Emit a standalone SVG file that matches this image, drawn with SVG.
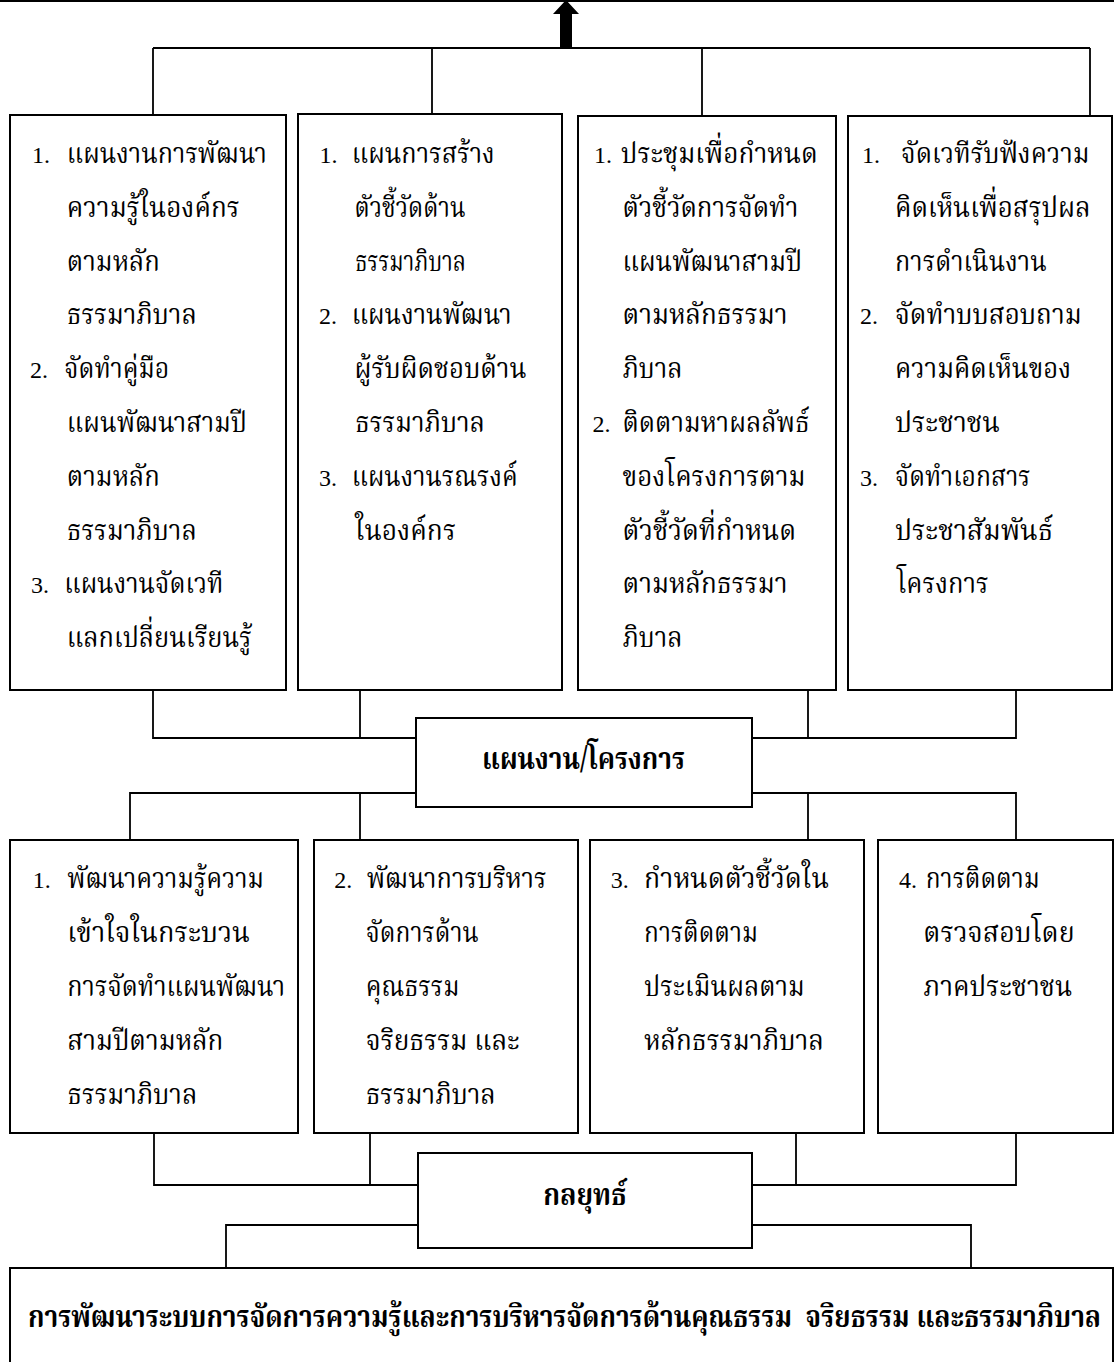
<svg xmlns="http://www.w3.org/2000/svg" width="1114" height="1362" viewBox="0 0 1114 1362">
<style>
.box{fill:#fff;stroke:#000;stroke-width:2}
.ln{fill:none;stroke:#000;stroke-width:1.8}
.t{font-family:"Noto Serif Thai","Norasi","Liberation Serif","Noto Sans Thai",serif;font-size:29px;fill:#000}
.n{font-family:"Liberation Serif",serif;font-size:24px;fill:#000}
.b{font-family:"Noto Serif Thai","Norasi","Liberation Serif","Noto Sans Thai",serif;font-size:30px;font-weight:bold;fill:#000;white-space:pre}
</style>
<rect width="1114" height="1362" fill="#fff"/>
<g id="connectors">
<line class="ln" x1="0" y1="1" x2="1114" y2="1" stroke-width="2"/>
<polygon points="566,0 579,14 572,14 572,48 560,48 560,14 553,14" fill="#000"/>
<path class="ln" d="M153,48H1090M153,48V115M432,48V114M702,48V116M1090,48V116"/>
<path class="ln" d="M153,690V738H416M360,690V738M808,690V738M1016,690V738H752"/>
<path class="ln" d="M416,793H130V840M360,793V840M752,793H1016V840M808,793V840"/>
<path class="ln" d="M154,1133V1185H418M370,1133V1185M796,1133V1185M1016,1133V1185H752"/>
<path class="ln" d="M418,1225H226V1268M752,1225H971V1268"/>
</g>
<g id="plan1">
<rect class="box" x="10" y="115" width="276" height="575"/>
<text class="n" x="32" y="163">1.</text>
<text class="t" x="66.8" y="163" textLength="200" lengthAdjust="spacingAndGlyphs">แผนงานการพัฒนา</text>
<text class="t" x="66.8" y="217" textLength="173" lengthAdjust="spacingAndGlyphs">ความรู้ในองค์กร</text>
<text class="t" x="66.8" y="271" textLength="93" lengthAdjust="spacingAndGlyphs">ตามหลัก</text>
<text class="t" x="66.8" y="324" textLength="130" lengthAdjust="spacingAndGlyphs">ธรรมาภิบาล</text>
<text class="n" x="30" y="378">2.</text>
<text class="t" x="64.3" y="378" textLength="105" lengthAdjust="spacingAndGlyphs">จัดทำคู่มือ</text>
<text class="t" x="66.8" y="432" textLength="180" lengthAdjust="spacingAndGlyphs">แผนพัฒนาสามปี</text>
<text class="t" x="66.8" y="486" textLength="93" lengthAdjust="spacingAndGlyphs">ตามหลัก</text>
<text class="t" x="66.8" y="540" textLength="130" lengthAdjust="spacingAndGlyphs">ธรรมาภิบาล</text>
<text class="n" x="31" y="593">3.</text>
<text class="t" x="64.3" y="593" textLength="159" lengthAdjust="spacingAndGlyphs">แผนงานจัดเวที</text>
<text class="t" x="66.8" y="647" textLength="185" lengthAdjust="spacingAndGlyphs">แลกเปลี่ยนเรียนรู้</text>
</g>
<g id="plan2">
<rect class="box" x="298" y="114" width="264" height="576"/>
<text class="n" x="319.6" y="163">1.</text>
<text class="t" x="351.7" y="163" textLength="143" lengthAdjust="spacingAndGlyphs">แผนการสร้าง</text>
<text class="t" x="354.6" y="217" textLength="111" lengthAdjust="spacingAndGlyphs">ตัวชี้วัดด้าน</text>
<text class="t" x="355" y="271" textLength="111" lengthAdjust="spacingAndGlyphs">ธรรมาภิบาล</text>
<text class="n" x="319" y="324">2.</text>
<text class="t" x="351.7" y="324" textLength="160" lengthAdjust="spacingAndGlyphs">แผนงานพัฒนา</text>
<text class="t" x="354.6" y="378" textLength="172" lengthAdjust="spacingAndGlyphs">ผู้รับผิดชอบด้าน</text>
<text class="t" x="355" y="432" textLength="130" lengthAdjust="spacingAndGlyphs">ธรรมาภิบาล</text>
<text class="n" x="319" y="486">3.</text>
<text class="t" x="351.7" y="486" textLength="166" lengthAdjust="spacingAndGlyphs">แผนงานรณรงค์</text>
<text class="t" x="355" y="540" textLength="101" lengthAdjust="spacingAndGlyphs">ในองค์กร</text>
</g>
<g id="plan3">
<rect class="box" x="578" y="116" width="258" height="574"/>
<text class="n" x="594" y="163">1.</text>
<text class="t" x="620.8" y="163" textLength="197" lengthAdjust="spacingAndGlyphs">ประชุมเพื่อกำหนด</text>
<text class="t" x="622.5" y="217" textLength="176" lengthAdjust="spacingAndGlyphs">ตัวชี้วัดการจัดทำ</text>
<text class="t" x="622.5" y="271" textLength="179.5" lengthAdjust="spacingAndGlyphs">แผนพัฒนาสามปี</text>
<text class="t" x="622.5" y="324" textLength="165" lengthAdjust="spacingAndGlyphs">ตามหลักธรรมา</text>
<text class="t" x="622.5" y="378" textLength="60" lengthAdjust="spacingAndGlyphs">ภิบาล</text>
<text class="n" x="592.6" y="432">2.</text>
<text class="t" x="622.5" y="432" textLength="187" lengthAdjust="spacingAndGlyphs">ติดตามหาผลลัพธ์</text>
<text class="t" x="622.5" y="486" textLength="183" lengthAdjust="spacingAndGlyphs">ของโครงการตาม</text>
<text class="t" x="622.5" y="540" textLength="173.5" lengthAdjust="spacingAndGlyphs">ตัวชี้วัดที่กำหนด</text>
<text class="t" x="622.5" y="593" textLength="165" lengthAdjust="spacingAndGlyphs">ตามหลักธรรมา</text>
<text class="t" x="622.5" y="647" textLength="60" lengthAdjust="spacingAndGlyphs">ภิบาล</text>
</g>
<g id="plan4">
<rect class="box" x="848" y="116" width="264" height="574"/>
<text class="n" x="862" y="163">1.</text>
<text class="t" x="901" y="163" textLength="188.5" lengthAdjust="spacingAndGlyphs">จัดเวทีรับฟังความ</text>
<text class="t" x="895" y="217" textLength="195.6" lengthAdjust="spacingAndGlyphs">คิดเห็นเพื่อสรุปผล</text>
<text class="t" x="895" y="271" textLength="151.7" lengthAdjust="spacingAndGlyphs">การดำเนินงาน</text>
<text class="n" x="860" y="324">2.</text>
<text class="t" x="895" y="324" textLength="186.7" lengthAdjust="spacingAndGlyphs">จัดทำบบสอบถาม</text>
<text class="t" x="895" y="378" textLength="176" lengthAdjust="spacingAndGlyphs">ความคิดเห็นของ</text>
<text class="t" x="895" y="432" textLength="105" lengthAdjust="spacingAndGlyphs">ประชาชน</text>
<text class="n" x="860" y="486">3.</text>
<text class="t" x="895" y="486" textLength="135.6" lengthAdjust="spacingAndGlyphs">จัดทำเอกสาร</text>
<text class="t" x="895" y="540" textLength="158" lengthAdjust="spacingAndGlyphs">ประชาสัมพันธ์</text>
<text class="t" x="896.7" y="593" textLength="92" lengthAdjust="spacingAndGlyphs">โครงการ</text>
</g>
<g id="plans-projects">
<rect class="box" x="416" y="718" width="336" height="89"/>
<text class="b" x="482" y="769" textLength="203" lengthAdjust="spacingAndGlyphs">แผนงาน/โครงการ</text>
</g>
<g id="strategy1">
<rect class="box" x="10" y="840" width="288" height="293"/>
<text class="n" x="32.7" y="888">1.</text>
<text class="t" x="67.3" y="888" textLength="196.7" lengthAdjust="spacingAndGlyphs">พัฒนาความรู้ความ</text>
<text class="t" x="67.3" y="942" textLength="182.7" lengthAdjust="spacingAndGlyphs">เข้าใจในกระบวน</text>
<text class="t" x="67.3" y="996" textLength="217.7" lengthAdjust="spacingAndGlyphs">การจัดทำแผนพัฒนา</text>
<text class="t" x="67.3" y="1050" textLength="156" lengthAdjust="spacingAndGlyphs">สามปีตามหลัก</text>
<text class="t" x="67.3" y="1104" textLength="130" lengthAdjust="spacingAndGlyphs">ธรรมาภิบาล</text>
</g>
<g id="strategy2">
<rect class="box" x="314" y="840" width="264" height="293"/>
<text class="n" x="334.3" y="888">2.</text>
<text class="t" x="366.7" y="888" textLength="180" lengthAdjust="spacingAndGlyphs">พัฒนาการบริหาร</text>
<text class="t" x="365.7" y="942" textLength="113" lengthAdjust="spacingAndGlyphs">จัดการด้าน</text>
<text class="t" x="365.7" y="996" textLength="93.7" lengthAdjust="spacingAndGlyphs">คุณธรรม</text>
<text class="t" x="365.7" y="1050" textLength="154" lengthAdjust="spacingAndGlyphs">จริยธรรม และ</text>
<text class="t" x="365.7" y="1104" textLength="130" lengthAdjust="spacingAndGlyphs">ธรรมาภิบาล</text>
</g>
<g id="strategy3">
<rect class="box" x="590" y="840" width="274" height="293"/>
<text class="n" x="610.7" y="888">3.</text>
<text class="t" x="644" y="888" textLength="185" lengthAdjust="spacingAndGlyphs">กำหนดตัวชี้วัดใน</text>
<text class="t" x="644" y="942" textLength="114" lengthAdjust="spacingAndGlyphs">การติดตาม</text>
<text class="t" x="644" y="996" textLength="160.7" lengthAdjust="spacingAndGlyphs">ประเมินผลตาม</text>
<text class="t" x="644" y="1050" textLength="180" lengthAdjust="spacingAndGlyphs">หลักธรรมาภิบาล</text>
</g>
<g id="strategy4">
<rect class="box" x="878" y="840" width="235" height="293"/>
<text class="n" x="899" y="888">4.</text>
<text class="t" x="925.7" y="888" textLength="114" lengthAdjust="spacingAndGlyphs">การติดตาม</text>
<text class="t" x="923.3" y="942" textLength="151.3" lengthAdjust="spacingAndGlyphs">ตรวจสอบโดย</text>
<text class="t" x="923.3" y="996" textLength="149" lengthAdjust="spacingAndGlyphs">ภาคประชาชน</text>
</g>
<g id="strategy">
<rect class="box" x="418" y="1153" width="334" height="95"/>
<text class="b" x="543.3" y="1205" textLength="83.4" lengthAdjust="spacingAndGlyphs">กลยุทธ์</text>
</g>
<g id="goal">
<path d="M10,1362V1268H1113V1362" fill="#fff" stroke="#000" stroke-width="2"/>
<text class="b" transform="translate(28,1327) scale(0.872,1)" x="0" y="0" textLength="1230.5" lengthAdjust="spacingAndGlyphs">การพัฒนาระบบการจัดการความรู้และการบริหารจัดการด้านคุณธรรม  จริยธรรม และธรรมาภิบาล</text>
</g>
</svg>
